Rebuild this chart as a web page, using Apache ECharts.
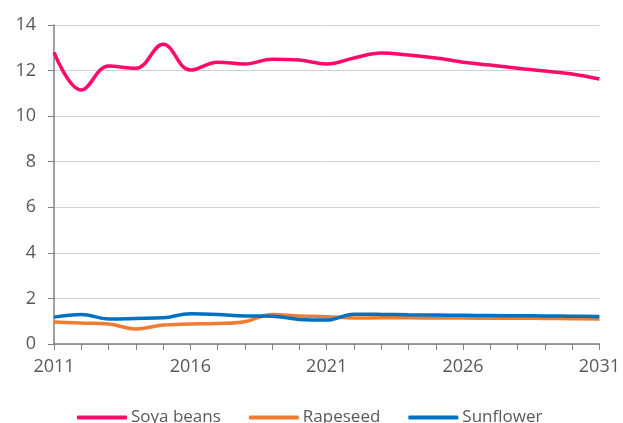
<!DOCTYPE html>
<html>
<head>
<meta charset="utf-8">
<script src="https://cdn.jsdelivr.net/npm/echarts@6/dist/echarts.min.js"></script>
<style>
html,body{margin:0;padding:0;background:#fff;}
#main{width:623px;height:423px;}
</style>
</head>
<body>
<div id="main"></div>
<script>
var years = ['2011','2012','2013','2014','2015','2016','2017','2018','2019','2020','2021',
	'2022','2023','2024','2025','2026','2027','2028','2029','2030','2031'];
var soya = [12.8,11.15,12.2,12.1,13.15,12.02,12.37,12.29,12.5,12.46,12.29,
	12.55,12.77,12.68,12.55,12.37,12.24,12.1,11.98,11.85,11.63];
var rapeseed = [0.97,0.92,0.88,0.66,0.83,0.88,0.9,0.98,1.3,1.23,1.2,
	1.14,1.15,1.15,1.14,1.14,1.13,1.13,1.12,1.11,1.1];
var sunflower = [1.18,1.3,1.1,1.12,1.15,1.33,1.3,1.23,1.22,1.08,1.05,
	1.31,1.3,1.28,1.27,1.26,1.25,1.24,1.23,1.22,1.21];
var yTicks = [0,2,4,6,8,10,12,14];

var myChart = echarts.init(document.getElementById('main'));
var font = 'Open Sans';

function line(name, data, color){
	return {
		name: name,
		type: 'line',
		data: data,
		smooth: 0.4,
		symbol: 'none',
		lineStyle: {color: color, width: 3.5},
		itemStyle: {color: color}
	};
}

var option = {
	animation: false,
	grid: {left: 54, right: 23, top: 25, bottom: 79},
	legend: {
		top: 404,
		left: 72,
		itemWidth: 50,
		itemHeight: 4,
		itemGap: 28,
		icon: 'roundRect',
		textStyle: {fontFamily: font, fontSize: 17, color: '#595959', padding: [0,0,0,-1]},
		data: ['Soya beans','Rapeseed','Sunflower']
	},
	xAxis: {
		type: 'category',
		data: years,
		boundaryGap: false,
		axisLine: {lineStyle: {color: '#808080', width: 1.5}},
		axisTick: {show: true, interval: 0, length: 6, lineStyle: {color: '#808080'}},
		axisLabel: {interval: 4, fontFamily: font, fontSize: 18, color: '#595959', margin: 14},
		splitLine: {show: false}
	},
	yAxis: {
		type: 'value',
		min: yTicks[0],
		max: yTicks[yTicks.length - 1],
		interval: 2,
		axisLine: {show: true, lineStyle: {color: '#808080', width: 1.5}},
		axisTick: {show: true, length: 6, lineStyle: {color: '#808080'}},
		axisLabel: {fontFamily: font, fontSize: 18, color: '#595959', margin: 18},
		splitLine: {lineStyle: {color: '#d0d0d0', width: 1}}
	},
	series: [
		line('Soya beans', soya, '#ff0a6b'),
		line('Rapeseed', rapeseed, '#ee7d31'),
		line('Sunflower', sunflower, '#0070c0')
	]
};
myChart.setOption(option);
</script>
</body>
</html>
